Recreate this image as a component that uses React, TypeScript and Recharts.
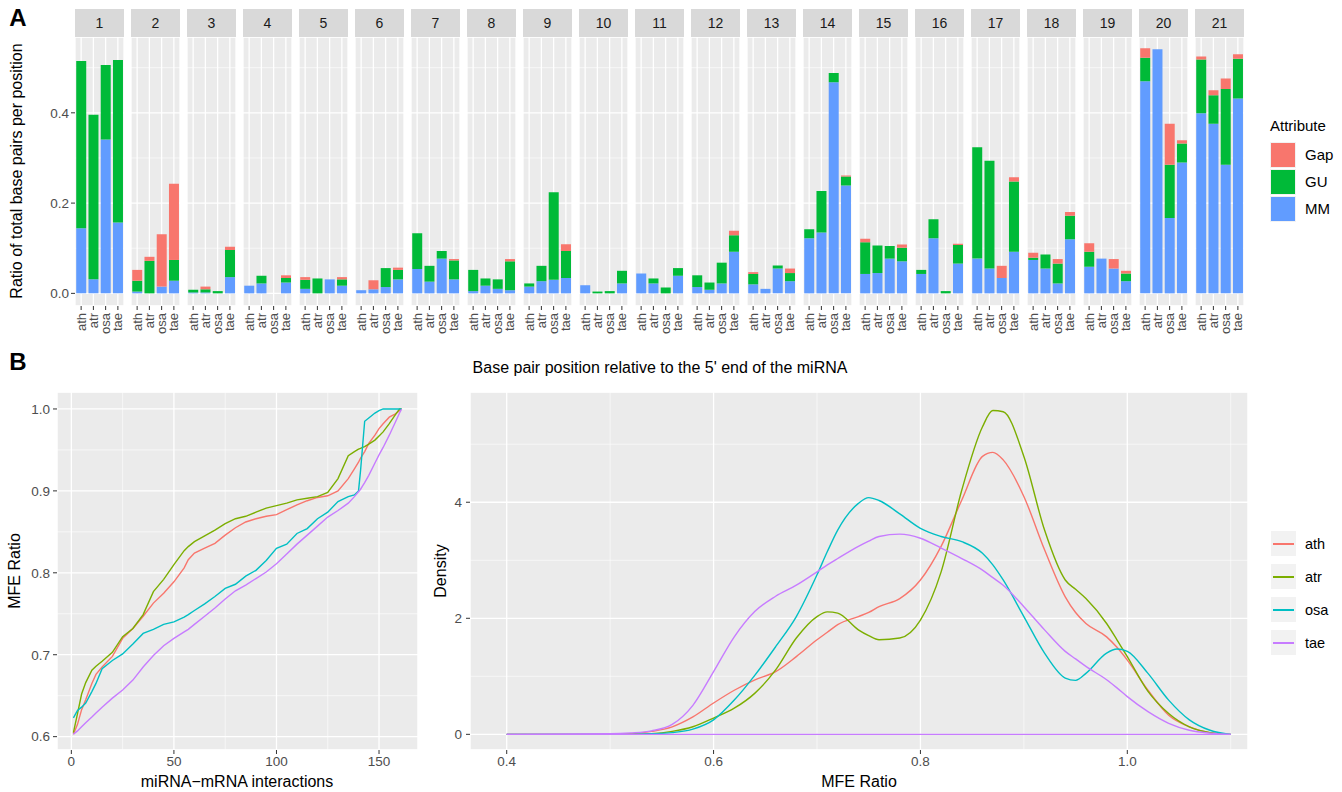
import React from "react";
import { BarChart, Bar, XAxis, YAxis, CartesianGrid, LineChart, Line } from "recharts";

// ---- panel A data ----
const species = ["ath", "atr", "osa", "tae"];
const positions = ["1", "2", "3", "4", "5", "6", "7", "8", "9", "10", "11", "12", "13", "14", "15", "16", "17", "18", "19", "20", "21"];

// one row per position, values in species order
const mmRatio = [
    [0.144, 0.031, 0.341, 0.157],
    [0.004, 0, 0.015, 0.028],
    [0.002, 0.002, 0, 0.036],
    [0.017, 0.022, 0, 0.024],
    [0.01, 0, 0.031, 0.017],
    [0.007, 0.009, 0.014, 0.031],
    [0.054, 0.026, 0.077, 0.031],
    [0.005, 0.017, 0.01, 0.007],
    [0.015, 0.027, 0.03, 0.034],
    [0.018, 0, 0, 0.022],
    [0.044, 0.022, 0, 0.039],
    [0.014, 0.008, 0.022, 0.092],
    [0.02, 0.01, 0.055, 0.027],
    [0.122, 0.135, 0.468, 0.239],
    [0.043, 0.045, 0.077, 0.071],
    [0.043, 0.122, 0, 0.066],
    [0.077, 0.055, 0.034, 0.092],
    [0.074, 0.055, 0.022, 0.12],
    [0.059, 0.077, 0.055, 0.027],
    [0.47, 0.541, 0.167, 0.29],
    [0.399, 0.376, 0.285, 0.432],
];
const guRatio = [
    [0.371, 0.365, 0.165, 0.36],
    [0.024, 0.072, 0, 0.046],
    [0.006, 0.007, 0.005, 0.06],
    [0, 0.017, 0, 0.01],
    [0.02, 0.033, 0, 0.014],
    [0, 0, 0.042, 0.021],
    [0.079, 0.035, 0.017, 0.042],
    [0.047, 0.016, 0.021, 0.064],
    [0.007, 0.034, 0.194, 0.06],
    [0, 0.004, 0.005, 0.028],
    [0, 0.011, 0.013, 0.017],
    [0.026, 0.016, 0.046, 0.037],
    [0.023, 0, 0.007, 0.018],
    [0.02, 0.092, 0.02, 0.02],
    [0.07, 0.061, 0.028, 0.03],
    [0.009, 0.042, 0.005, 0.041],
    [0.247, 0.239, 0, 0.156],
    [0.005, 0.031, 0.044, 0.052],
    [0.033, 0, 0, 0.017],
    [0.052, 0, 0.118, 0.042],
    [0.119, 0.063, 0.168, 0.088],
];
const gapRatio = [
    [0, 0, 0, 0],
    [0.024, 0.009, 0.116, 0.169],
    [0, 0.006, 0, 0.007],
    [0, 0, 0, 0.006],
    [0.006, 0, 0, 0.005],
    [0, 0.02, 0, 0.005],
    [0, 0, 0, 0.003],
    [0, 0, 0, 0.005],
    [0, 0, 0, 0.015],
    [0, 0, 0, 0],
    [0, 0, 0, 0],
    [0, 0, 0, 0.01],
    [0.004, 0, 0, 0.01],
    [0, 0, 0, 0.002],
    [0.008, 0, 0, 0.007],
    [0, 0, 0, 0.003],
    [0, 0, 0.027, 0.009],
    [0.011, 0, 0.01, 0.008],
    [0.019, 0, 0.021, 0.006],
    [0.021, 0, 0.091, 0.007],
    [0.007, 0.011, 0.023, 0.01],
];
const ratioTicks = [0, 0.2, 0.4];
const ratioMinor = [0.1, 0.3, 0.5];

// ---- panel B left: sorted MFE ratio per interaction ----
const interX = [1, 3, 5, 7, 10, 12, 15, 20, 25, 30, 35, 40, 45, 50, 55, 57, 60, 65, 70, 75, 80, 85, 90, 95, 100, 105, 110, 115, 120, 125, 130, 135, 138, 140, 141, 142, 143, 145, 148, 150, 152, 155, 158, 160, 161];
const mfeAth = [0.603, 0.615, 0.633, 0.645, 0.665, 0.676, 0.685, 0.698, 0.72, 0.732, 0.747, 0.763, 0.775, 0.789, 0.806, 0.816, 0.824, 0.83, 0.836, 0.846, 0.855, 0.862, 0.866, 0.869, 0.871, 0.877, 0.883, 0.888, 0.892, 0.894, 0.9, 0.915, 0.927, 0.935, 0.94, 0.944, 0.948, 0.958, 0.968, 0.976, 0.982, 0.99, 0.994, 0.998, 1.0];
const mfeAtr = [0.605, 0.628, 0.652, 0.666, 0.681, 0.686, 0.692, 0.703, 0.722, 0.732, 0.749, 0.777, 0.792, 0.81, 0.827, 0.832, 0.838, 0.845, 0.852, 0.86, 0.866, 0.869, 0.874, 0.879, 0.882, 0.885, 0.889, 0.891, 0.893, 0.898, 0.915, 0.943, 0.948, 0.951, 0.952, 0.953, 0.954, 0.957, 0.962, 0.967, 0.972, 0.982, 0.993, 1.0, 1.0];
const mfeOsa = [0.623, 0.632, 0.636, 0.641, 0.655, 0.665, 0.683, 0.693, 0.701, 0.713, 0.726, 0.731, 0.737, 0.74, 0.746, 0.749, 0.754, 0.762, 0.771, 0.781, 0.786, 0.796, 0.803, 0.815, 0.83, 0.835, 0.848, 0.854, 0.866, 0.874, 0.887, 0.893, 0.895, 0.9, 0.925, 0.955, 0.985, 0.989, 0.995, 0.998, 1.0, 1.0, 1.0, 1.0, 1.0];
const mfeTae = [0.603, 0.607, 0.612, 0.617, 0.624, 0.629, 0.636, 0.647, 0.657, 0.669, 0.685, 0.699, 0.711, 0.72, 0.728, 0.731, 0.737, 0.747, 0.757, 0.768, 0.778, 0.785, 0.793, 0.801, 0.811, 0.823, 0.835, 0.846, 0.857, 0.868, 0.876, 0.885, 0.893, 0.899, 0.902, 0.906, 0.91, 0.919, 0.934, 0.944, 0.953, 0.968, 0.984, 0.995, 1.0];
const interTicks = [0, 50, 100, 150];
const interMinor = [25, 75, 125];
const mfeTicks = [0.6, 0.7, 0.8, 0.9, 1.0];
const mfeMinor = [0.65, 0.75, 0.85, 0.95];

// ---- panel B right: density of MFE ratio ----
const densX = [0.4, 0.5, 0.52, 0.54, 0.56, 0.58, 0.6, 0.62, 0.64, 0.66, 0.68, 0.7, 0.71, 0.72, 0.74, 0.75, 0.76, 0.78, 0.8, 0.82, 0.84, 0.86, 0.87, 0.88, 0.9, 0.92, 0.94, 0.95, 0.96, 0.98, 0.99, 1.0, 1.02, 1.04, 1.06, 1.08, 1.1];
const densAth = [0, 0, 0.01, 0.05, 0.13, 0.3, 0.54, 0.76, 0.94, 1.08, 1.34, 1.63, 1.76, 1.89, 2.03, 2.1, 2.2, 2.34, 2.66, 3.24, 4.04, 4.79, 4.86, 4.73, 4.1, 3.18, 2.37, 2.1, 1.91, 1.68, 1.5, 1.28, 0.76, 0.33, 0.13, 0.03, 0];
const densAtr = [0, 0, 0, 0.01, 0.05, 0.13, 0.28, 0.45, 0.71, 1.11, 1.66, 2.03, 2.11, 2.09, 1.8, 1.7, 1.63, 1.66, 1.97, 2.8, 4.21, 5.3, 5.58, 5.56, 4.79, 3.52, 2.66, 2.5, 2.34, 1.91, 1.63, 1.34, 0.74, 0.36, 0.13, 0.03, 0];
const densOsa = [0, 0, 0, 0.01, 0.03, 0.09, 0.25, 0.59, 1.02, 1.51, 2.03, 2.75, 3.15, 3.52, 3.98, 4.08, 4.03, 3.8, 3.55, 3.41, 3.32, 3.12, 2.92, 2.66, 2.03, 1.4, 0.97, 0.93, 1.05, 1.4, 1.47, 1.43, 1.05, 0.59, 0.25, 0.07, 0];
const densTae = [0, 0.01, 0.025, 0.06, 0.17, 0.5, 1.08, 1.68, 2.12, 2.38, 2.57, 2.8, 2.92, 3.03, 3.24, 3.33, 3.41, 3.45, 3.38, 3.21, 3.03, 2.83, 2.7, 2.57, 2.2, 1.8, 1.43, 1.3, 1.17, 0.94, 0.8, 0.65, 0.39, 0.19, 0.07, 0.02, 0];
const densRange = [0.4, 1.1];
const densTicks = [0.4, 0.6, 0.8, 1.0];
const densMinorX = [0.5, 0.7, 0.9, 1.1];
const densYTicks = [0, 2, 4];
const densYMinor = [1, 3, 5];

const FONT = '"Liberation Sans", Arial, Helvetica, sans-serif';
const BG = "#EBEBEB";
const TICK = "#4D4D4D";
const attrColors = { MM: "#619CFF", GU: "#00BA38", Gap: "#F8766D" };
const spColors: Record<string, string> = { ath: "#F8766D", atr: "#7CAE00", osa: "#00BFC4", tae: "#C77CFF" };

const FACET_W = 49;
const PITCH = 56;

function HText({ x, y, size, children, bold }: any) {
    return (
        <div style={{ position: "absolute", left: x, top: y, transform: "translate(-50%,-50%)", whiteSpace: "nowrap", fontSize: size, fontWeight: bold ? 700 : 400 }}>
            {children}
        </div>
    );
}

function VText({ x, y, size, children }: any) {
    return (
        <div style={{ position: "absolute", left: x, top: y, transform: "translate(-50%,-50%) rotate(-90deg)", whiteSpace: "nowrap", fontSize: size }}>
            {children}
        </div>
    );
}

const SpeciesTick = ({ x, y, payload }: any) => (
    <text x={x} y={y} transform={`rotate(-90 ${x} ${y})`} textAnchor="end" dominantBaseline="central" fontSize={13} fill={TICK}>
        {payload.value}
    </text>
);

function Facet({ idx }: { idx: number }) {
    const rows = species.map((sp, j) => ({ sp, MM: mmRatio[idx][j], GU: guRatio[idx][j], Gap: gapRatio[idx][j] }));
    const first = idx === 0;
    const yw = first ? 30 : 0;
    return (
        <div style={{ position: "absolute", left: 75 + idx * PITCH - yw, top: 9 }}>
            <div style={{ marginLeft: yw, width: FACET_W, height: 28, background: "#D9D9D9", color: "#1A1A1A", fontSize: 14, display: "flex", alignItems: "center", justifyContent: "center" }}>
                {positions[idx]}
            </div>
            <BarChart width={FACET_W + yw} height={309} data={rows} margin={{ top: 0, right: 0, bottom: 0, left: 0 }} barCategoryGap="10%">
                <XAxis dataKey="sp" height={40} tickSize={4} tickMargin={3} axisLine={false} tickLine={{ stroke: "#333" }} tick={<SpeciesTick />} interval={0} />
                <YAxis
                    domain={[-0.028, 0.568]}
                    ticks={ratioTicks}
                    width={yw}
                    hide={!first}
                    tickSize={4}
                    tickMargin={2}
                    axisLine={false}
                    tickLine={{ stroke: "#333" }}
                    tick={{ fill: TICK, fontSize: 13.5 }}
                    tickFormatter={(v: number) => v.toFixed(1)}
                    allowDataOverflow
                />
                <YAxis yAxisId="minor" domain={[-0.028, 0.568]} ticks={ratioMinor} hide allowDataOverflow />
                <CartesianGrid yAxisId="minor" vertical={false} fill={BG} stroke="#fff" strokeWidth={0.6} />
                <CartesianGrid stroke="#fff" strokeWidth={1.3} />
                <Bar dataKey="MM" stackId="a" fill={attrColors.MM} isAnimationActive={false} />
                <Bar dataKey="GU" stackId="a" fill={attrColors.GU} isAnimationActive={false} />
                <Bar dataKey="Gap" stackId="a" fill={attrColors.Gap} isAnimationActive={false} />
            </BarChart>
        </div>
    );
}

export default function App() {
    const lineRows = interX.map((x, i) => ({ x, ath: mfeAth[i], atr: mfeAtr[i], osa: mfeOsa[i], tae: mfeTae[i] }));
    const densRows = densX.map((x, i) => ({ x, ath: densAth[i], atr: densAtr[i], osa: densOsa[i], tae: densTae[i] }));
    const baseRows = densRange.map((x) => ({ x, base: 0 }));

    return (
        <div style={{ position: "absolute", left: 0, top: 0, width: 1342, height: 792, background: "#fff", fontFamily: FONT, color: "#000", overflow: "hidden" }}>
            {/* Panel A */}
            <HText x={18} y={18} size={24} bold>A</HText>
            {positions.map((p, i) => (
                <Facet key={p} idx={i} />
            ))}
            <VText x={17} y={171} size={16}>Ratio of total base pairs per position</VText>
            <HText x={660} y={368} size={16}>Base pair position relative to the 5' end of the miRNA</HText>

            <div style={{ position: "absolute", left: 1270, top: 117, fontSize: 15 }}>
                <div style={{ height: 24 }}>Attribute</div>
                {(["Gap", "GU", "MM"] as const).map((k) => (
                    <div key={k} style={{ display: "flex", alignItems: "center", height: 27 }}>
                        <div style={{ width: 26, height: 26, background: attrColors[k], boxSizing: "border-box", border: "1px solid #f2f2f2" }} />
                        <span style={{ marginLeft: 9 }}>{k}</span>
                    </div>
                ))}
            </div>

            {/* Panel B */}
            <HText x={18} y={362} size={24} bold>B</HText>

            <div style={{ position: "absolute", left: 0, top: 392 }}>
                <LineChart width={420} height={388} data={lineRows} margin={{ top: 0, right: 2, bottom: 0, left: 0 }}>
                    <XAxis
                        type="number"
                        dataKey="x"
                        domain={[-7, 169]}
                        ticks={interTicks}
                        height={30}
                        tickSize={4}
                        tickMargin={2}
                        axisLine={false}
                        tickLine={{ stroke: "#333" }}
                        tick={{ fill: TICK, fontSize: 13.5 }}
                        allowDataOverflow
                    />
                    <XAxis xAxisId="minor" type="number" dataKey="x" domain={[-7, 169]} ticks={interMinor} hide allowDataOverflow />
                    <YAxis
                        domain={[0.5837, 1.0207]}
                        ticks={mfeTicks}
                        width={57}
                        tickSize={4}
                        tickMargin={3}
                        axisLine={false}
                        tickLine={{ stroke: "#333" }}
                        tick={{ fill: TICK, fontSize: 13.5 }}
                        tickFormatter={(v: number) => v.toFixed(1)}
                        allowDataOverflow
                    />
                    <YAxis yAxisId="minor" domain={[0.5837, 1.0207]} ticks={mfeMinor} hide allowDataOverflow />
                    <CartesianGrid xAxisId="minor" yAxisId="minor" fill={BG} stroke="#fff" strokeWidth={0.6} />
                    <CartesianGrid stroke="#fff" strokeWidth={1.3} />
                    {species.map((sp) => (
                        <Line key={sp} type="linear" dataKey={sp} stroke={spColors[sp]} strokeWidth={1.4} dot={false} isAnimationActive={false} />
                    ))}
                </LineChart>
            </div>
            <VText x={15} y={571} size={16}>MFE Ratio</VText>
            <HText x={237} y={782} size={16}>miRNA−mRNA interactions</HText>

            <div style={{ position: "absolute", left: 430, top: 392 }}>
                <LineChart width={818} height={388} data={densRows} margin={{ top: 0, right: 0, bottom: 0, left: 0 }}>
                    <XAxis
                        type="number"
                        dataKey="x"
                        domain={[0.3645, 1.1167]}
                        ticks={densTicks}
                        height={30}
                        tickSize={4}
                        tickMargin={2}
                        axisLine={false}
                        tickLine={{ stroke: "#333" }}
                        tick={{ fill: TICK, fontSize: 13.5 }}
                        tickFormatter={(v: number) => v.toFixed(1)}
                        allowDataOverflow
                    />
                    <XAxis xAxisId="minor" type="number" dataKey="x" domain={[0.3645, 1.1167]} ticks={densMinorX} hide allowDataOverflow />
                    <YAxis
                        domain={[-0.27, 5.9]}
                        ticks={densYTicks}
                        width={40}
                        tickSize={4}
                        tickMargin={4}
                        axisLine={false}
                        tickLine={{ stroke: "#333" }}
                        tick={{ fill: TICK, fontSize: 13.5 }}
                        allowDataOverflow
                    />
                    <YAxis yAxisId="minor" domain={[-0.27, 5.9]} ticks={densYMinor} hide allowDataOverflow />
                    <CartesianGrid xAxisId="minor" yAxisId="minor" fill={BG} stroke="#fff" strokeWidth={0.6} />
                    <CartesianGrid stroke="#fff" strokeWidth={1.3} />
                    {species.map((sp) => (
                        <Line key={sp} type="monotone" dataKey={sp} stroke={spColors[sp]} strokeWidth={1.4} dot={false} isAnimationActive={false} />
                    ))}
                    <Line data={baseRows} type="linear" dataKey="base" stroke={spColors.tae} strokeWidth={1.4} dot={false} isAnimationActive={false} />
                </LineChart>
            </div>
            <VText x={441} y={571} size={16}>Density</VText>
            <HText x={859} y={782} size={16}>MFE Ratio</HText>

            <div style={{ position: "absolute", left: 1271, top: 527, fontSize: 14.5 }}>
                {species.map((sp) => (
                    <div key={sp} style={{ display: "flex", alignItems: "center", height: 33 }}>
                        <div style={{ width: 25, height: 25, background: "#F2F2F2", position: "relative" }}>
                            <div style={{ position: "absolute", left: 2, right: 2, top: 12, height: 1.5, background: spColors[sp] }} />
                        </div>
                        <span style={{ marginLeft: 9 }}>{sp}</span>
                    </div>
                ))}
            </div>
        </div>
    );
}
